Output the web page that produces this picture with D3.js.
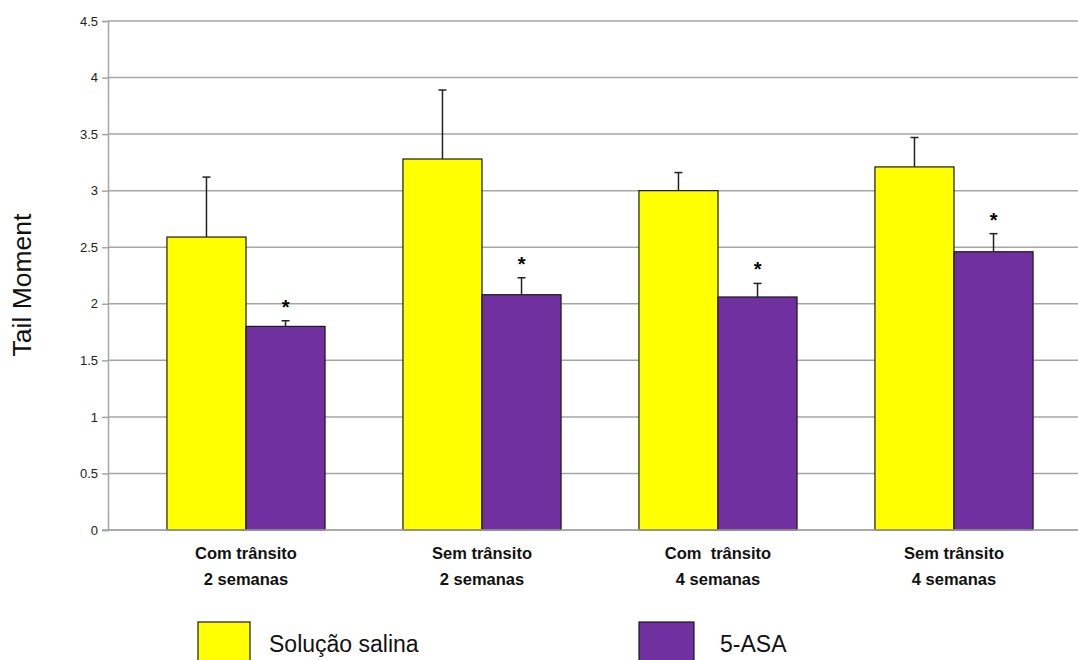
<!DOCTYPE html>
<html>
<head>
<meta charset="utf-8">
<script src="https://cdn.jsdelivr.net/npm/d3@7"></script>
<style>
  html, body { margin: 0; padding: 0; background: #fff; }
  svg { display: block; }
</style>
</head>
<body>
<svg id="chart" width="1078" height="660"></svg>
<script>
// Categories (two-line labels)
const categories = ["c1", "c2", "c3", "c4"];
const categoryLine1 = ["Com trânsito", "Sem trânsito", "Com  trânsito", "Sem trânsito"];
const categoryLine2 = ["2 semanas", "2 semanas", "4 semanas", "4 semanas"];

// Series
const seriesNames = ["Solução salina", "5-ASA"];
const salinaMeans = [2.59, 3.28, 3.00, 3.21];
const salinaErrors = [0.53, 0.61, 0.16, 0.26];
const asaMeans = [1.80, 2.08, 2.06, 2.46];
const asaErrors = [0.05, 0.15, 0.12, 0.16];
const asaSignificant = [true, true, true, true];

const yTicks = [0, 0.5, 1, 1.5, 2, 2.5, 3, 3.5, 4, 4.5];
const yTickLabels = ["0", "0.5", "1", "1.5", "2", "2.5", "3", "3.5", "4", "4.5"];

const colors = ["#FFFF00", "#7030A0"];

const svg = d3.select("#chart");

const axisX = 108, plotRight = 1078;
const y = d3.scaleLinear().domain([0, 4.5]).range([530, 21]);

const x0 = d3.scaleBand().domain(categories).range([128, 1072])
  .paddingInner(0.33).paddingOuter(0.165);
const x1 = d3.scaleBand().domain(seriesNames).range([0, x0.bandwidth()]);

// Gridlines
svg.append("g").selectAll("line").data(yTicks).join("line")
  .attr("x1", axisX).attr("x2", plotRight)
  .attr("y1", d => y(d)).attr("y2", d => y(d))
  .attr("stroke", "#a6a6a6").attr("stroke-width", 1.5);

// Y axis
const yAxis = d3.axisLeft(y).tickValues(yTicks)
  .tickFormat((d, i) => yTickLabels[i]).tickSize(6).tickPadding(4);
const gy = svg.append("g").attr("transform", `translate(${axisX},0)`).call(yAxis);
gy.select(".domain").attr("stroke", "#a6a6a6").attr("stroke-width", 1.5);
gy.selectAll(".tick line").attr("stroke", "#a6a6a6").attr("stroke-width", 1.5);
gy.selectAll(".tick text").attr("font-family", "Liberation Sans, Arial, sans-serif")
  .attr("font-size", 13).attr("fill", "#222");

svg.append("text")
  .attr("transform", "translate(31,285) rotate(-90)")
  .attr("text-anchor", "middle")
  .attr("font-family", "Liberation Sans, Arial, sans-serif")
  .attr("font-size", 26.5)
  .attr("fill", "#111")
  .text("Tail Moment");

// Bars
const rows = categories.map((c, i) => ({
  cat: c,
  values: [
    { s: seriesNames[0], v: salinaMeans[i], e: salinaErrors[i], sig: false, color: colors[0] },
    { s: seriesNames[1], v: asaMeans[i], e: asaErrors[i], sig: asaSignificant[i], color: colors[1] }
  ]
}));

const groups = svg.append("g").selectAll("g").data(rows).join("g")
  .attr("transform", d => `translate(${x0(d.cat)},0)`);

groups.selectAll("rect").data(d => d.values).join("rect")
  .attr("x", d => x1(d.s))
  .attr("y", d => y(d.v))
  .attr("width", x1.bandwidth())
  .attr("height", d => y(0) - y(d.v))
  .attr("fill", d => d.color)
  .attr("stroke", "#1a1a1a").attr("stroke-width", 1.2);

// Error bars (upper only)
const eb = groups.selectAll("g.err").data(d => d.values).join("g").attr("class", "err");
eb.append("line")
  .attr("x1", d => x1(d.s) + x1.bandwidth() / 2)
  .attr("x2", d => x1(d.s) + x1.bandwidth() / 2)
  .attr("y1", d => y(d.v)).attr("y2", d => y(d.v + d.e))
  .attr("stroke", "#222").attr("stroke-width", 1.5);
eb.append("line")
  .attr("x1", d => x1(d.s) + x1.bandwidth() / 2 - 4)
  .attr("x2", d => x1(d.s) + x1.bandwidth() / 2 + 4)
  .attr("y1", d => y(d.v + d.e)).attr("y2", d => y(d.v + d.e))
  .attr("stroke", "#222").attr("stroke-width", 1.5);

// Significance markers
groups.selectAll("text.sig").data(d => d.values.filter(v => v.sig)).join("text")
  .attr("class", "sig")
  .attr("x", d => x1(d.s) + x1.bandwidth() / 2)
  .attr("y", d => y(d.v + d.e) - 7)
  .attr("text-anchor", "middle")
  .attr("font-family", "Liberation Sans, Arial, sans-serif")
  .attr("font-weight", "bold")
  .attr("font-size", 20)
  .attr("fill", "#000")
  .text("*");

// Baseline
svg.append("line").attr("x1", axisX - 6).attr("x2", plotRight)
  .attr("y1", y(0)).attr("y2", y(0))
  .attr("stroke", "#a6a6a6").attr("stroke-width", 1.5);

// Category labels
const catLabels = svg.append("g").selectAll("text").data(categories).join("text")
  .attr("text-anchor", "middle")
  .attr("font-family", "Liberation Sans, Arial, sans-serif")
  .attr("font-weight", "bold")
  .attr("font-size", 16.5)
  .attr("fill", "#111")
  .style("white-space", "pre");
catLabels.append("tspan")
  .attr("x", d => x0(d) + x0.bandwidth() / 2).attr("y", 559)
  .text((d, i) => categoryLine1[i]);
catLabels.append("tspan")
  .attr("x", d => x0(d) + x0.bandwidth() / 2).attr("y", 585)
  .text((d, i) => categoryLine2[i]);

// Legend
const legendX = [198, 639];
const legend = svg.append("g").selectAll("g").data(seriesNames).join("g")
  .attr("transform", (d, i) => `translate(${legendX[i]},622)`);
legend.append("rect")
  .attr("width", (d, i) => i === 0 ? 52 : 55).attr("height", 44)
  .attr("fill", (d, i) => colors[i])
  .attr("stroke", "#1a1a1a").attr("stroke-width", 1.2);
legend.append("text")
  .attr("x", (d, i) => i === 0 ? 71 : 81).attr("y", 30)
  .attr("font-family", "Liberation Sans, Arial, sans-serif")
  .attr("font-size", 23)
  .attr("fill", "#111")
  .text(d => d);
</script>
</body>
</html>
